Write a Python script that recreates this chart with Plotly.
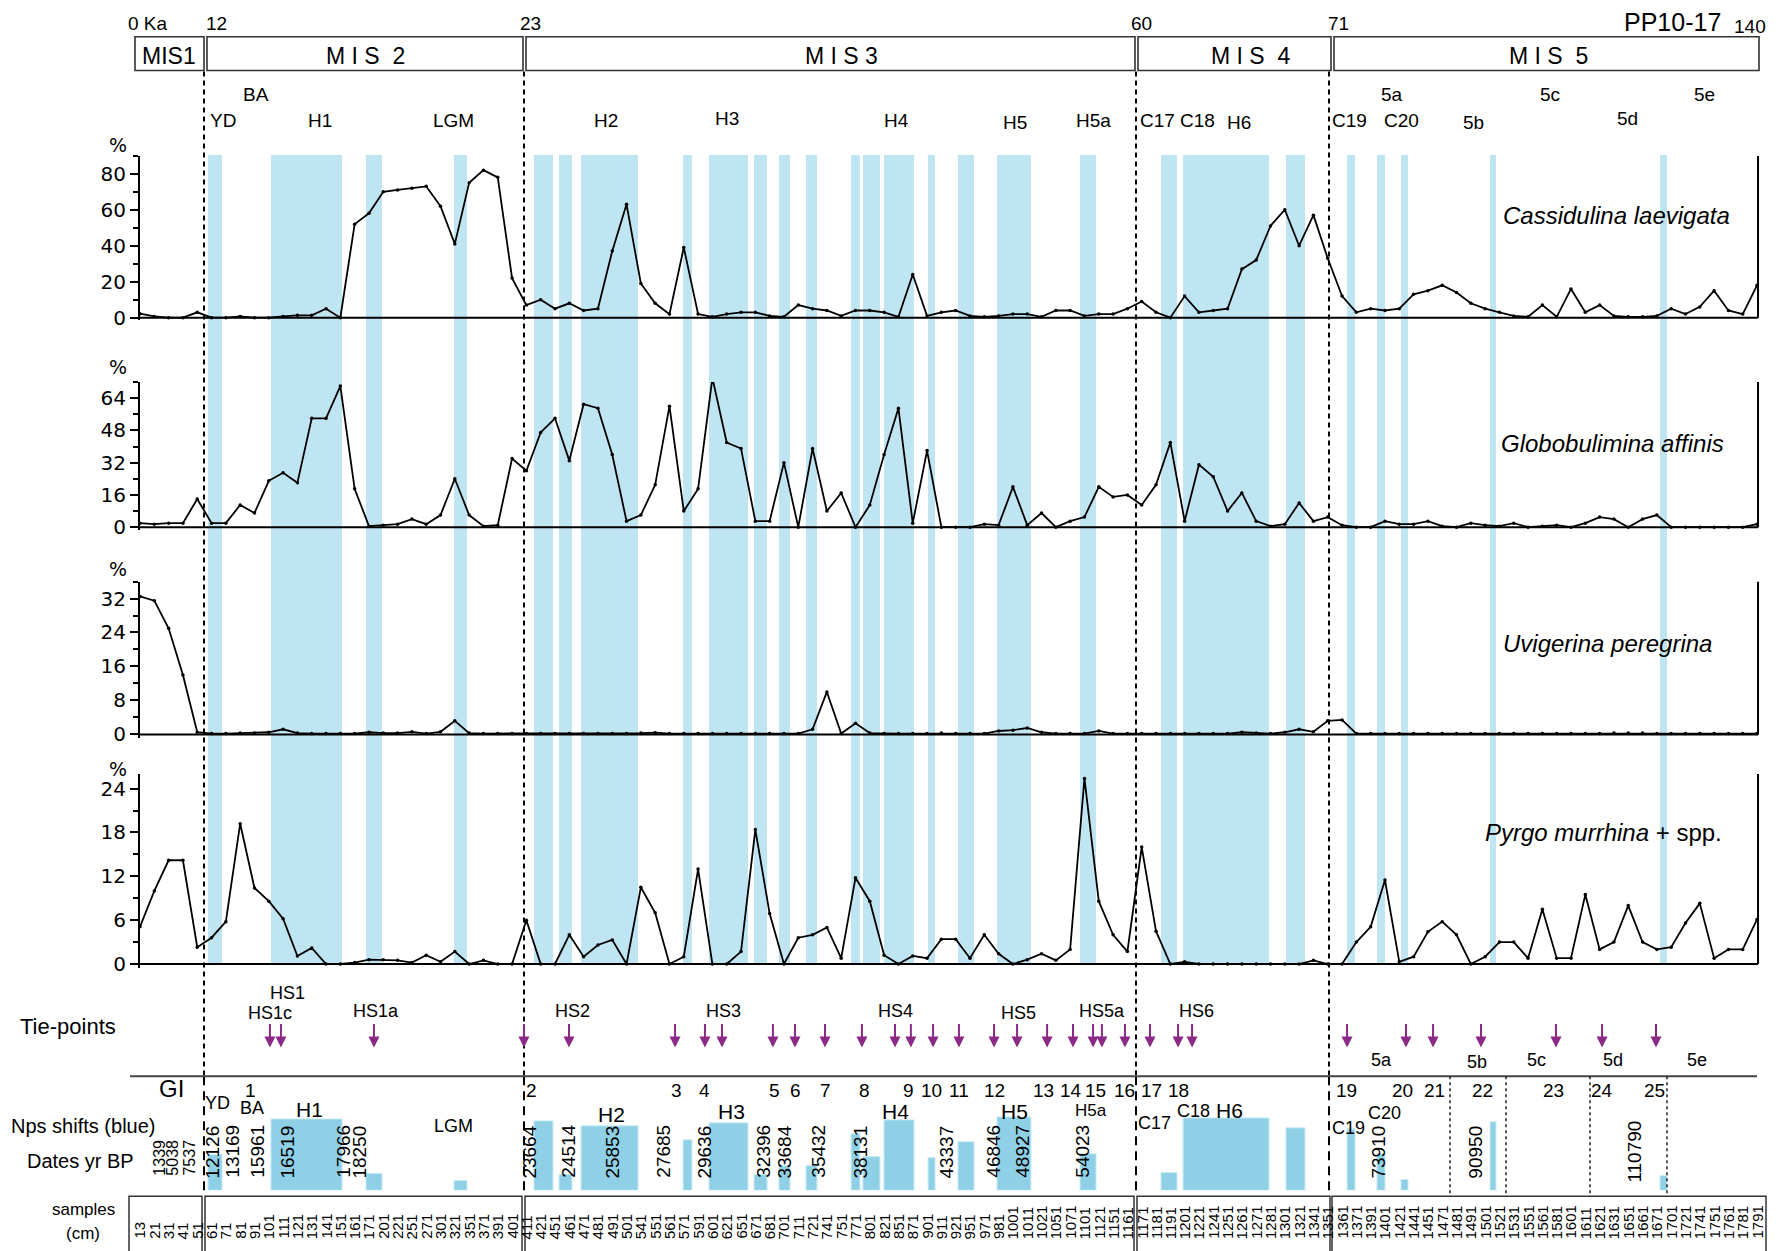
import plotly.graph_objects as go

W, H = 1787, 1251
FONT = "Liberation Sans, Arial, sans-serif"
TICKFONT = "DejaVu Sans, Verdana, sans-serif"

# ---------------- data ----------------
samples = [13, 21, 31, 41, 51,
           61, 71, 81, 91, 101, 111, 121, 131, 141, 151, 161, 171, 201, 221, 251, 271, 301, 321, 351, 371, 391, 401,
           411, 421, 451, 461, 471, 481, 491, 501, 541, 551, 561, 571, 591, 601, 621, 651, 671, 681, 701, 711, 721,
           741, 751, 771, 801, 821, 851, 871, 901, 911, 921, 951, 971, 981, 1001, 1011, 1021, 1051, 1071, 1101,
           1121, 1151, 1161,
           1171, 1181, 1191, 1201, 1221, 1241, 1251, 1261, 1271, 1281, 1301, 1321, 1341,
           1351, 1361, 1371, 1391, 1401, 1421, 1441, 1451, 1471, 1481, 1491, 1501, 1521, 1531, 1551, 1561, 1581,
           1601, 1611, 1621, 1631, 1651, 1661, 1671, 1701, 1721, 1741, 1751, 1761, 1781, 1791]

cassidulina = [2.2, 0.7, 0, 0, 3, 0, 0, 0.7, 0, 0,
               0.7, 1.3, 1.3, 5, 0, 52, 58, 70, 71, 72,
               73, 62, 41, 75, 82, 78, 22, 7, 10, 5,
               8, 4, 5, 37, 63, 19, 8, 2, 39, 2,
               0.5, 2, 3, 3, 1, 0.5, 7, 5, 4, 1,
               4, 4, 3, 0.5, 24, 1, 3, 4, 1, 0.5,
               1, 2, 2, 0.5, 4, 4, 1, 2, 2, 5,
               9, 3, 0, 12, 3, 4, 5, 27, 32, 51,
               60, 40, 57, 33, 12, 3, 5, 4, 5, 13,
               15, 18, 14, 8, 5, 3, 1, 0.5, 7, 0.5,
               16, 3, 7, 1, 0.5, 0.5, 1, 5, 2, 6,
               15, 4, 2, 18]

globobulimina = [2, 1.5, 2, 2, 14, 2, 2, 11, 7, 23,
                 27, 22, 54, 54, 70, 19, 0.5, 1, 1.5, 4,
                 1.5, 6, 24, 6, 0.5, 1, 34, 28, 47, 54,
                 33, 61, 59, 36, 3, 6, 21, 60, 8, 19,
                 74, 42, 39, 3, 3, 32, 0, 39, 8, 17,
                 0, 11, 36, 59, 2, 38, 0, 0, 0, 1.5,
                 1, 20, 1, 7, 0, 3, 5, 20, 15, 16,
                 11, 21, 42, 3, 31, 25, 8, 17, 3, 0.5,
                 1.5, 12, 3, 5, 1, 0, 0, 3, 1.5, 1.5,
                 3, 0.5, 0, 2, 1, 0.5, 2, 0, 0.5, 1,
                 0, 2, 5, 4, 0, 4, 6, 0, 0, 0,
                 0, 0, 0, 1.5]

uvigerina = [32.5, 31.5, 25, 14, 0.5, 0.2, 0.2, 0.3, 0.3, 0.5,
             1.2, 0.3, 0.2, 0.2, 0.2, 0.2, 0.5, 0.3, 0.3, 0.6,
             0.2, 0.6, 3.2, 0.3, 0.2, 0.2, 0.2, 0.2, 0.2, 0.2,
             0.2, 0.2, 0.2, 0.2, 0.2, 0.3, 0.4, 0.2, 0.2, 0.2,
             0.2, 0.2, 0.2, 0.2, 0.2, 0.2, 0.2, 1.2, 10, 0.2,
             2.6, 0.3, 0.2, 0.2, 0.2, 0.2, 0.3, 0.2, 0.2, 0.2,
             0.8, 1.0, 1.5, 0.5, 0.2, 0.2, 0.2, 0.8, 0.2, 0.2,
             0.2, 0.2, 0.2, 0.2, 0.2, 0.2, 0.2, 0.5, 0.3, 0.2,
             0.5, 1.2, 0.6, 3.2, 3.4, 0.2, 0.2, 0.2, 0.2, 0.2,
             0.2, 0.2, 0.2, 0.2, 0.2, 0.2, 0.2, 0.2, 0.2, 0.2,
             0.2, 0.2, 0.2, 0.3, 0.3, 0.3, 0.2, 0.2, 0.2, 0.2,
             0.2, 0.2, 0.2, 0.2]

pyrgo = [5.1, 10, 14.2, 14.2, 2.3, 3.6, 5.8, 19.2, 10.4, 8.6,
         6.2, 1.1, 2.2, 0, 0, 0.2, 0.6, 0.6, 0.5, 0.2,
         1.2, 0.3, 1.7, 0, 0.5, 0, 0, 6, 0, 0,
         4, 1, 2.6, 3.3, 0, 10.5, 7, 0, 1, 13,
         0, 0, 1.7, 18.4, 6.9, 0, 3.6, 4, 5, 0.8,
         11.8, 8.6, 1.2, 0, 1.1, 0.8, 3.4, 3.4, 0.8, 4,
         1.4, 0, 0.6, 1.4, 0.5, 2, 25.4, 8.6, 4, 1.7,
         16, 4.5, 0, 0.3, 0, 0, 0, 0, 0, 0,
         0, 0, 0.5, 0, 0, 3, 5.1, 11.5, 0.3, 1,
         4.4, 5.8, 4, 0, 1, 3, 3, 0.8, 7.5, 0.8,
         0.8, 9.5, 2, 3, 8, 3, 2, 2.3, 5.6, 8.3,
         0.8, 2, 2, 6.1]

# stadial / Nps-shift intervals, in sample-index units
band_start = [4.75, 9.15, 15.79, 21.94, 27.53, 29.28, 30.82, 37.95, 39.76, 42.91, 44.65, 46.54, 49.69, 50.52,
              51.99, 55.07, 57.16, 59.89, 65.69, 71.35, 72.89, 80.08, 84.35, 86.44, 88.12, 94.34, 106.22]
band_end = [5.73, 14.12, 16.91, 22.85, 28.86, 30.19, 34.80, 38.57, 42.49, 43.82, 45.42, 47.31, 50.31, 51.71,
            54.09, 55.56, 58.28, 62.26, 66.81, 72.47, 78.90, 81.41, 84.91, 87.00, 88.61, 94.76, 106.71]
nps_shift = [36, 72, 17, 10, 70, 16, 65, 51, 68, 16, 25, 25, 57, 34, 71, 33, 49, 74, 37, 18, 73, 63, 62, 37,
             11, 69, 15]

tie_points = [9.08, 9.85, 16.35, 26.83, 29.98, 37.39, 39.48, 40.67, 44.23, 45.77, 47.87, 50.45, 52.76, 53.87,
              55.42, 57.23, 59.68, 61.29, 63.39, 65.20, 66.60, 67.22, 68.83, 70.58, 72.54, 73.52, 84.35, 88.47,
              90.36, 93.71, 98.95, 102.17, 105.94]

dates_bp = ["1339", "5038", "7537", "12126", "13169", "15961", "16519", "17966", "18250", "23664", "24514",
            "25853", "27685", "29636", "32396", "33684", "35432", "38131", "43337", "46846", "48927", "54023",
            "73910", "90950", "110790"]
dates_at = [1.40, 2.31, 3.49, 5.10, 6.50, 8.25, 10.34, 14.26, 15.37, 27.25, 29.98, 33.05, 36.62, 39.48, 43.61,
            45.07, 47.45, 50.38, 56.39, 59.68, 61.71, 65.90, 86.58, 93.36, 104.47]

# ---------------- geometry helpers ----------------
X0, DX = 140.0, 14.31          # pixel of first sample, pixels per sample


def PY(px):
    return 1 - px / H


def PX(px):
    return px / W


fig = go.Figure()

panels = [  # zero pixel, px per unit, ymin, ymax, major, minor
    (320.0, 1.8125, -1.5, 90, [0, 20, 40, 60, 80], [10, 30, 50, 70, 90]),
    (531.0, 2.031, -1.5, 72, [0, 16, 32, 48, 64], [8, 24, 40, 56, 72]),
    (739.7, 4.276, -0.8, 36, [0, 8, 16, 24, 32], [4, 12, 20, 28, 36]),
    (971.0, 7.36, -0.5, 26, [0, 6, 12, 18, 24], [3, 9, 15, 21]),
]
series = [cassidulina, globobulimina, uvigerina, pyrgo]
idx = list(range(len(samples)))

layout_axes = {}
for k, (zp, sc, vmin, vmax, major, minor) in enumerate(panels):
    name = "yaxis" if k == 0 else f"yaxis{k + 1}"
    bottom = zp - vmin * sc
    top = zp - vmax * sc
    layout_axes[name] = dict(
        domain=[PY(bottom), PY(top)], range=[vmin, vmax], anchor="free", position=PX(139),
        showline=True, linecolor="black", linewidth=2, ticks="outside", ticklen=8, tickwidth=2,
        tickcolor="black", tickvals=major, ticktext=[str(v) for v in major],
        tickfont=dict(family=TICKFONT, size=20, color="black"), showgrid=False, zeroline=False,
        minor=dict(tickvals=minor, ticks="outside", ticklen=5, tickwidth=1.5, tickcolor="black"),
    )
    fig.add_trace(go.Scatter(
        x=idx, y=series[k], mode="lines+markers", yaxis="y" if k == 0 else f"y{k + 1}",
        line=dict(color="black", width=1.8), marker=dict(color="black", size=3.5),
        showlegend=False, hoverinfo="skip"))

# Nps shift bars
layout_axes["yaxis5"] = dict(domain=[PY(1199), PY(1119)], range=[0, 80], anchor="free", position=0,
                             visible=False)
fig.add_trace(go.Bar(
    x=[(a + b) / 2 for a, b in zip(band_start, band_end)], y=nps_shift,
    width=[b - a for a, b in zip(band_start, band_end)], base=0, yaxis="y5",
    marker=dict(color="#8fd0e6", line=dict(color="#c8ebf5", width=1)), showlegend=False, hoverinfo="skip"))

shapes = []
# stadial bands across the four panels
for a, b in zip(band_start, band_end):
    shapes.append(dict(type="rect", xref="x", yref="paper", x0=a, x1=b, y0=PY(971), y1=PY(156),
                       fillcolor="#c0e5f2", line=dict(width=0), layer="below"))

# panel baselines and right borders
last = len(samples) - 1 + 0.07
for k, (zp, sc, vmin, vmax, major, minor) in enumerate(panels):
    yr = "y" if k == 0 else f"y{k + 1}"
    shapes.append(dict(type="line", xref="x", yref=yr, x0=-0.07, x1=last, y0=0, y1=0,
                       line=dict(color="black", width=2)))
    shapes.append(dict(type="line", xref="x", yref=yr, x0=last, x1=last, y0=0, y1=vmax,
                       line=dict(color="black", width=2)))

# MIS boxes at top
for x0, x1 in [(135, 204), (207, 523), (526, 1135), (1138, 1331), (1334, 1759)]:
    shapes.append(dict(type="rect", xref="paper", yref="paper", x0=PX(x0), x1=PX(x1), y0=PY(71), y1=PY(37),
                       line=dict(color="#333333", width=1.6)))

# MIS boundary dashed lines
for xb in [204, 524, 1136, 1329]:
    shapes.append(dict(type="line", xref="paper", yref="paper", x0=PX(xb), x1=PX(xb), y0=PY(72), y1=PY(1084),
                       line=dict(color="black", width=2, dash="5px,4px")))
    shapes.append(dict(type="line", xref="paper", yref="paper", x0=PX(xb), x1=PX(xb), y0=PY(1084), y1=PY(1205),
                       line=dict(color="black", width=2, dash="9px,6px")))

# GI line
shapes.append(dict(type="line", xref="paper", yref="paper", x0=PX(130), x1=PX(1757), y0=PY(1084), y1=PY(1084),
                   line=dict(color="#444444", width=2)))
# MIS5 substage dotted lines
for xb in [1450, 1506, 1590, 1667]:
    shapes.append(dict(type="line", xref="paper", yref="paper", x0=PX(xb), x1=PX(xb), y0=PY(1084), y1=PY(1205),
                       line=dict(color="black", width=1.3, dash="dot")))

# sample box
for x0, x1 in [(129, 202), (205, 522), (525, 1134), (1137, 1330), (1332, 1766)]:
    shapes.append(dict(type="rect", xref="paper", yref="paper", x0=PX(x0), x1=PX(x1), y0=PY(1262), y1=PY(1205),
                       line=dict(color="#333333", width=1.5)))

ann = []


def txt(s, x, y, size=19, xa="center", ya="middle", family=FONT, **kw):
    ann.append(dict(text=s, x=PX(x), y=PY(y), xref="paper", yref="paper", xanchor=xa, yanchor=ya,
                    showarrow=False, font=dict(family=family, size=size, color="black"), **kw))


# top labels
txt("0 Ka", 148, 24)
txt("12", 216, 24)
txt("23", 530, 24)
txt("60", 1141, 24)
txt("71", 1338, 24)
txt("PP10-17", 1672, 22, size=25)
txt("140", 1750, 27)
txt("MIS1", 169, 56, size=23)
txt("M I S  2", 365, 56, size=23)
txt("M I S 3", 841, 56, size=23)
txt("M I S  4", 1250, 56, size=23)
txt("M I S  5", 1548, 56, size=23)

for s, x, y in [("BA", 256, 95), ("5a", 1392, 95), ("5c", 1550, 95), ("5e", 1704, 95),
                ("YD", 223, 121), ("H1", 320, 121), ("LGM", 454, 121), ("H2", 606, 121), ("H3", 727, 119),
                ("H4", 897, 121), ("H5", 1015, 123), ("H5a", 1093, 121), ("C17", 1157, 121), ("C18", 1197, 121),
                ("H6", 1239, 123), ("C19", 1349, 121), ("C20", 1401, 121), ("5b", 1473, 123), ("5d", 1627, 119)]:
    txt(s, x, y, size=19)

# % labels and species names
for y in [146, 370, 573, 775]:
    txt("%", 118, y, size=19, family=TICKFONT)
txt("<i>Cassidulina laevigata</i>", 1616, 217, size=24)
txt("<i>Globobulimina affinis</i>", 1612, 447, size=24)
txt("<i>Uvigerina peregrina</i>", 1607, 648, size=24)
txt("<i>Pyrgo murrhina</i> + spp.", 1603, 839, size=24)

# tie-points
txt("Tie-points", 68, 1034, size=22)
for s, x, y in [("HS1", 287, 1000), ("HS1c", 270, 1020), ("HS1a", 376, 1018), ("HS2", 572, 1018),
                ("HS3", 723, 1018), ("HS4", 895, 1018), ("HS5", 1018, 1020), ("HS5a", 1102, 1018),
                ("HS6", 1196, 1018)]:
    txt(s, x, y, size=18)
for s, x, y in [("5a", 1381, 1068), ("5b", 1477, 1070), ("5c", 1536, 1068), ("5d", 1613, 1068),
                ("5e", 1697, 1068)]:
    txt(s, x, y, size=18)
for t in tie_points:
    ann.append(dict(text="", x=t, y=PY(1055), xref="x", yref="paper", showarrow=True, ax=0, ay=-25,
                    arrowhead=2, arrowsize=1.1, arrowwidth=2, arrowcolor="#8b2a86", standoff=0))

# GI section
txt("GI", 171, 1096, size=24)
for s, x in [("1", 250), ("2", 531), ("3", 676), ("4", 704), ("5", 774), ("6", 795), ("7", 825), ("8", 864),
             ("9", 909), ("10", 931), ("11", 959), ("12", 994), ("13", 1043), ("14", 1071), ("15", 1095),
             ("16", 1124), ("17", 1151), ("18", 1178), ("19", 1346), ("20", 1402), ("21", 1434), ("22", 1482),
             ("23", 1553), ("24", 1602), ("25", 1654)]:
    txt(s, x, 1098, size=19)
for s, x, y, sz in [("YD", 217, 1111, 18), ("BA", 252, 1116, 18), ("H1", 309, 1118, 21), ("LGM", 454, 1134, 18),
                    ("H2", 611, 1123, 21), ("H3", 731, 1120, 21), ("H4", 895, 1120, 21), ("H5", 1014, 1120, 21),
                    ("H5a", 1091, 1119, 17), ("C17", 1154, 1131, 18), ("C18", 1193, 1119, 18),
                    ("H6", 1229, 1119, 21), ("C19", 1348, 1136, 18), ("C20", 1384, 1121, 18)]:
    txt(s, x, y, size=sz)
txt("Nps shifts (blue)", 83, 1134, size=20)
txt("Dates yr BP", 80, 1169, size=20)
txt("samples", 83, 1218, size=17)
txt("(cm)", 83, 1242, size=17)

for s, xpos in zip(dates_bp, dates_at):
    small = len(s) == 4
    ann.append(dict(text=s, x=xpos, y=PY(1166 if small else 1160), xref="x", yref="paper", xanchor="center",
                    yanchor="middle", showarrow=False, textangle=-90,
                    font=dict(family=FONT, size=16 if small else 19, color="black")))

for i, s in enumerate(samples):
    ann.append(dict(text=str(s), x=i, y=PY(1249), xref="x", yref="paper", xanchor="center", yanchor="bottom",
                    showarrow=False, textangle=-90, borderpad=0,
                    font=dict(family=FONT, size=15, color="black")))

fig.update_layout(
    width=W, height=H, margin=dict(l=0, r=0, t=0, b=0),
    paper_bgcolor="white", plot_bgcolor="rgba(0,0,0,0)",
    xaxis=dict(domain=[0, 1], range=[-X0 / DX, (W - X0) / DX], visible=False, anchor="y"),
    shapes=shapes, annotations=ann, barmode="overlay", showlegend=False,
    font=dict(family=FONT),
    **layout_axes,
)

fig.write_html("out.html")
